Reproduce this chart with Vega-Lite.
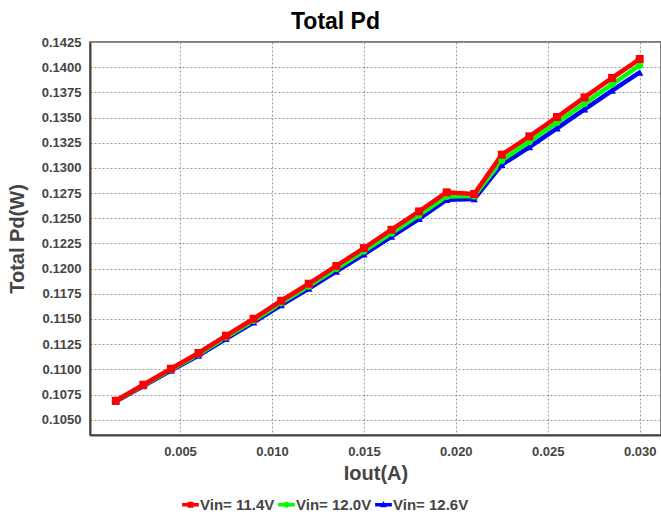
{
  "$schema": "https://vega.github.io/schema/vega-lite/v6.json",
  "autosize": "none",
  "width": 571,
  "height": 393,
  "padding": {"left": 90, "top": 42, "right": 0, "bottom": 81},
  "background": "white",
  "config": {
    "font": "Liberation Sans",
    "view": {"stroke": "#555555", "strokeWidth": 1.5},
    "axis": {
      "labelFont": "Liberation Sans",
      "labelFontWeight": "bold",
      "labelFontSize": 13,
      "labelColor": "#444444",
      "titleFont": "Liberation Sans",
      "titleFontWeight": "bold",
      "titleFontSize": 20,
      "titleColor": "#444444",
      "ticks": false,
      "domainColor": "#444444",
      "domainWidth": 2,
      "gridColor": "#999999",
      "gridDash": [2, 2],
      "gridWidth": 1
    }
  },
  "title": {
    "text": "Total Pd",
    "fontSize": 23,
    "fontWeight": "bold",
    "color": "#000000",
    "font": "Liberation Sans",
    "anchor": "middle",
    "dx": -40,
    "offset": 2
  },
  "data": {
    "values": [
      {"iout": 0.0015, "pd": 0.10681, "vin": "Vin= 12.6V"},
      {"iout": 0.003, "pd": 0.10835, "vin": "Vin= 12.6V"},
      {"iout": 0.0045, "pd": 0.10988, "vin": "Vin= 12.6V"},
      {"iout": 0.006, "pd": 0.11138, "vin": "Vin= 12.6V"},
      {"iout": 0.0075, "pd": 0.11304, "vin": "Vin= 12.6V"},
      {"iout": 0.009, "pd": 0.11466, "vin": "Vin= 12.6V"},
      {"iout": 0.0105, "pd": 0.11639, "vin": "Vin= 12.6V"},
      {"iout": 0.012, "pd": 0.11801, "vin": "Vin= 12.6V"},
      {"iout": 0.0135, "pd": 0.11972, "vin": "Vin= 12.6V"},
      {"iout": 0.015, "pd": 0.12142, "vin": "Vin= 12.6V"},
      {"iout": 0.0165, "pd": 0.12318, "vin": "Vin= 12.6V"},
      {"iout": 0.018, "pd": 0.12494, "vin": "Vin= 12.6V"},
      {"iout": 0.0195, "pd": 0.12684, "vin": "Vin= 12.6V"},
      {"iout": 0.021, "pd": 0.12692, "vin": "Vin= 12.6V"},
      {"iout": 0.0225, "pd": 0.13032, "vin": "Vin= 12.6V"},
      {"iout": 0.024, "pd": 0.13207, "vin": "Vin= 12.6V"},
      {"iout": 0.0255, "pd": 0.13393, "vin": "Vin= 12.6V"},
      {"iout": 0.027, "pd": 0.13582, "vin": "Vin= 12.6V"},
      {"iout": 0.0285, "pd": 0.13768, "vin": "Vin= 12.6V"},
      {"iout": 0.03, "pd": 0.13948, "vin": "Vin= 12.6V"},
      {"iout": 0.0015, "pd": 0.10685, "vin": "Vin= 12.0V"},
      {"iout": 0.003, "pd": 0.10841, "vin": "Vin= 12.0V"},
      {"iout": 0.0045, "pd": 0.10997, "vin": "Vin= 12.0V"},
      {"iout": 0.006, "pd": 0.1115, "vin": "Vin= 12.0V"},
      {"iout": 0.0075, "pd": 0.11319, "vin": "Vin= 12.0V"},
      {"iout": 0.009, "pd": 0.11484, "vin": "Vin= 12.0V"},
      {"iout": 0.0105, "pd": 0.1166, "vin": "Vin= 12.0V"},
      {"iout": 0.012, "pd": 0.11826, "vin": "Vin= 12.0V"},
      {"iout": 0.0135, "pd": 0.12, "vin": "Vin= 12.0V"},
      {"iout": 0.015, "pd": 0.12173, "vin": "Vin= 12.0V"},
      {"iout": 0.0165, "pd": 0.12352, "vin": "Vin= 12.0V"},
      {"iout": 0.018, "pd": 0.12531, "vin": "Vin= 12.0V"},
      {"iout": 0.0195, "pd": 0.12717, "vin": "Vin= 12.0V"},
      {"iout": 0.021, "pd": 0.1272, "vin": "Vin= 12.0V"},
      {"iout": 0.0225, "pd": 0.13074, "vin": "Vin= 12.0V"},
      {"iout": 0.024, "pd": 0.1326, "vin": "Vin= 12.0V"},
      {"iout": 0.0255, "pd": 0.1345, "vin": "Vin= 12.0V"},
      {"iout": 0.027, "pd": 0.1364, "vin": "Vin= 12.0V"},
      {"iout": 0.0285, "pd": 0.1383, "vin": "Vin= 12.0V"},
      {"iout": 0.03, "pd": 0.14018, "vin": "Vin= 12.0V"},
      {"iout": 0.0015, "pd": 0.10688, "vin": "Vin= 11.4V"},
      {"iout": 0.003, "pd": 0.10847, "vin": "Vin= 11.4V"},
      {"iout": 0.0045, "pd": 0.11006, "vin": "Vin= 11.4V"},
      {"iout": 0.006, "pd": 0.11162, "vin": "Vin= 11.4V"},
      {"iout": 0.0075, "pd": 0.11334, "vin": "Vin= 11.4V"},
      {"iout": 0.009, "pd": 0.11502, "vin": "Vin= 11.4V"},
      {"iout": 0.0105, "pd": 0.11681, "vin": "Vin= 11.4V"},
      {"iout": 0.012, "pd": 0.1185, "vin": "Vin= 11.4V"},
      {"iout": 0.0135, "pd": 0.12027, "vin": "Vin= 11.4V"},
      {"iout": 0.015, "pd": 0.12204, "vin": "Vin= 11.4V"},
      {"iout": 0.0165, "pd": 0.12386, "vin": "Vin= 11.4V"},
      {"iout": 0.018, "pd": 0.12568, "vin": "Vin= 11.4V"},
      {"iout": 0.0195, "pd": 0.12757, "vin": "Vin= 11.4V"},
      {"iout": 0.021, "pd": 0.12741, "vin": "Vin= 11.4V"},
      {"iout": 0.0225, "pd": 0.13131, "vin": "Vin= 11.4V"},
      {"iout": 0.024, "pd": 0.13313, "vin": "Vin= 11.4V"},
      {"iout": 0.0255, "pd": 0.13505, "vin": "Vin= 11.4V"},
      {"iout": 0.027, "pd": 0.137, "vin": "Vin= 11.4V"},
      {"iout": 0.0285, "pd": 0.13893, "vin": "Vin= 11.4V"},
      {"iout": 0.03, "pd": 0.14081, "vin": "Vin= 11.4V"}
    ]
  },
  "encoding": {
    "x": {
      "field": "iout",
      "type": "quantitative",
      "title": "Iout(A)",
      "scale": {"domain": [0.0001, 0.03116], "nice": false, "zero": false},
      "axis": {"values": [0.005, 0.01, 0.015, 0.02, 0.025, 0.03], "format": ".3f", "labelPadding": 10, "titlePadding": 5}
    },
    "y": {
      "field": "pd",
      "type": "quantitative",
      "title": "Total Pd(W)",
      "scale": {"domain": [0.10348, 0.1425], "nice": false, "zero": false},
      "axis": {
        "values": [0.105, 0.1075, 0.11, 0.1125, 0.115, 0.1175, 0.12, 0.1225, 0.125, 0.1275, 0.13, 0.1325, 0.135, 0.1375, 0.14, 0.1425],
        "format": ".4f",
        "labelPadding": 9,
        "titlePadding": 14
      }
    },
    "color": {
      "field": "vin",
      "type": "nominal",
      "scale": {"domain": ["Vin= 11.4V", "Vin= 12.0V", "Vin= 12.6V"], "range": ["#ff0000", "#00ff00", "#0000ff"]},
      "legend": {
        "title": null,
        "orient": "none",
        "direction": "horizontal",
        "legendX": 92,
        "legendY": 454,
        "labelFont": "Liberation Sans",
        "labelFontWeight": "bold",
        "labelFontSize": 15,
        "labelColor": "#444444",
        "labelOffset": 1,
        "columnPadding": 3,
        "symbolSize": 280,
        "symbolStrokeWidth": 0,
        "encode": {
          "symbols": {
            "update": {
              "shape": {"signal": "datum.value == 'Vin= 11.4V' ? 'M-1,-0.2H1V0.2H-1Z M-0.35,-0.35H0.35V0.35H-0.35Z' : datum.value == 'Vin= 12.0V' ? 'M-1,-0.2H1V0.2H-1Z M-0.35,0 A0.35,0.35 0 1,1 0.35,0 A0.35,0.35 0 1,1 -0.35,0Z' : 'M-1,-0.2H1V0.2H-1Z M0,-0.45 L0.4,0.3 L-0.4,0.3Z'"},
              "fill": {"signal": "datum.value == 'Vin= 11.4V' ? '#ff0000' : datum.value == 'Vin= 12.0V' ? '#00ff00' : '#0000ff'"},
              "fillOpacity": {"value": 1},
              "strokeWidth": {"value": 0}
            }
          }
        }
      }
    }
  },
  "layer": [
    {
      "mark": {"type": "line", "strokeWidth": 4.5},
      "encoding": {"detail": {"field": "vin"}}
    },
    {
      "transform": [{"filter": "datum.vin == 'Vin= 12.6V'"}],
      "mark": {"type": "point", "shape": "triangle-up", "filled": true, "opacity": 1, "size": 55}
    },
    {
      "transform": [{"filter": "datum.vin == 'Vin= 12.0V'"}],
      "mark": {"type": "point", "shape": "circle", "filled": true, "opacity": 1, "size": 50}
    },
    {
      "transform": [{"filter": "datum.vin == 'Vin= 11.4V'"}],
      "mark": {"type": "point", "shape": "square", "filled": true, "opacity": 1, "size": 64}
    }
  ]
}
